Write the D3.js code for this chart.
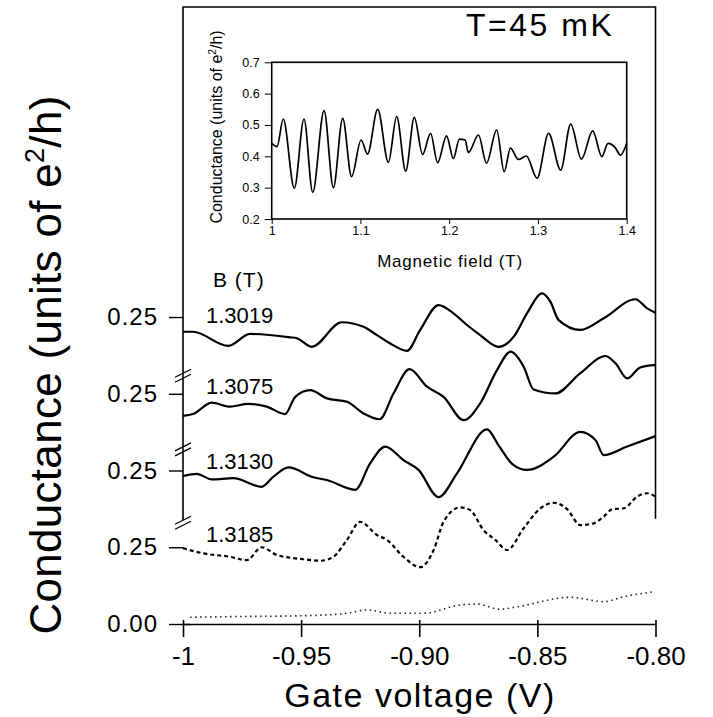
<html>
<head>
<style>
    body { margin: 0; background: #fff; }
    svg text { font-family: "Liberation Sans", Arial, sans-serif; fill: #000; }
    .frame { fill: none; stroke: #000; stroke-width: 1.6; }
    .trace { fill: none; stroke: #000; stroke-width: 2.2; }
    .broken { stroke-dasharray: 4,3; }
    .base { fill: none; stroke: #222; stroke-width: 1.6; stroke-dasharray: 1.5,3.5; }
    .inset-line { fill: none; stroke: #000; stroke-width: 1.7; }
</style>
</head>
<body>
<script src="https://cdn.jsdelivr.net/npm/d3@7"></script>
<svg id="chart" width="713" height="717"></svg>
<script>
// ---- main panel: conductance vs gate voltage, traces stacked by 0.25 ----
let fieldLabels = ["1.3019", "1.3075", "1.3130", "1.3185"];
let traceOffsets = [0.75, 0.5, 0.25, 0];

let v3019 = [-1.000,-0.9958,-0.9808,-0.9716,-0.9547,-0.9518,-0.9455,-0.9328,-0.9236,-0.9179,-0.9123,-0.9052,-0.8996,-0.8918,-0.8855,-0.8798,-0.8742,-0.8664,-0.8600,-0.8544,-0.8480,-0.8445,-0.8410,-0.8318,-0.8219,-0.8085,-0.8035,-0.800];
let g3019 = [0.202,0.202,0.156,0.195,0.184,0.181,0.153,0.233,0.218,0.191,0.164,0.140,0.208,0.289,0.262,0.224,0.191,0.153,0.186,0.262,0.327,0.300,0.240,0.208,0.246,0.308,0.278,0.264];

let v3075 = [-1.000,-0.9958,-0.9878,-0.9801,-0.9723,-0.9645,-0.9568,-0.9525,-0.9462,-0.9391,-0.9306,-0.9236,-0.9168,-0.9109,-0.9041,-0.8967,-0.8897,-0.8812,-0.8742,-0.8671,-0.8614,-0.8558,-0.8516,-0.8424,-0.8318,-0.8212,-0.8169,-0.8120,-0.8064,-0.800];
let g3075 = [0.178,0.184,0.221,0.208,0.217,0.208,0.184,0.240,0.262,0.235,0.224,0.186,0.167,0.251,0.330,0.273,0.240,0.164,0.219,0.327,0.387,0.338,0.264,0.251,0.317,0.373,0.349,0.300,0.336,0.344];

let v3130 = [-1.000,-0.9942,-0.9878,-0.9787,-0.9667,-0.9617,-0.9554,-0.9448,-0.9391,-0.9271,-0.9208,-0.9144,-0.9067,-0.9003,-0.8918,-0.8840,-0.8713,-0.8665,-0.8606,-0.8544,-0.8431,-0.8318,-0.8254,-0.8219,-0.8120,-0.800];
let g3130 = [0.232,0.239,0.221,0.225,0.197,0.230,0.260,0.228,0.219,0.187,0.273,0.328,0.284,0.252,0.163,0.241,0.384,0.333,0.271,0.252,0.295,0.376,0.349,0.300,0.328,0.362];

let v3185 = [-1.000,-0.9914,-0.9801,-0.9730,-0.9667,-0.9603,-0.9490,-0.9419,-0.9363,-0.9306,-0.9250,-0.9179,-0.9137,-0.9067,-0.8996,-0.8939,-0.8897,-0.8826,-0.8784,-0.8728,-0.8678,-0.8628,-0.8558,-0.8487,-0.8431,-0.8374,-0.8318,-0.8261,-0.8219,-0.8183,-0.8134,-0.8078,-0.8035,-0.800];
let g3185 = [0.247,0.230,0.219,0.208,0.250,0.225,0.211,0.206,0.219,0.274,0.333,0.290,0.274,0.219,0.185,0.241,0.333,0.380,0.371,0.306,0.274,0.241,0.312,0.377,0.395,0.374,0.322,0.328,0.350,0.374,0.377,0.415,0.426,0.415];

// low trace near zero
let vBase = [-0.9970,-0.9801,-0.9490,-0.9306,-0.9222,-0.9123,-0.8982,-0.8826,-0.8756,-0.8657,-0.8586,-0.8360,-0.8219,-0.8134,-0.8007];
let gBase = [0.022,0.024,0.027,0.035,0.046,0.035,0.035,0.062,0.065,0.048,0.056,0.087,0.073,0.089,0.105];

let gateTicks = [-1, -0.95, -0.90, -0.85, -0.80];
let gateTickLabels = ["-1", "-0.95", "-0.90", "-0.85", "-0.80"];
let condTicks = [0, 0.25, 0.5, 0.75, 1.0];
let condTickLabels = ["0.00", "0.25", "0.25", "0.25", "0.25"];
let breakLevels = [0.817, 0.577, 0.338];

// ---- inset: conductance vs magnetic field ----
let bField = [1.000,1.006,1.013,1.0255,1.0364,1.0462,1.059,1.0695,1.080,1.090,1.1007,1.108,1.1194,1.1315,1.1408,1.151,1.1607,1.170,1.179,1.187,1.197,1.2047,1.2115,1.218,1.2216,1.233,1.242,1.2535,1.262,1.269,1.278,1.287,1.299,1.312,1.3256,1.3369,1.349,1.3617,1.372,1.379,1.387,1.393,1.400];
let gField = [0.441,0.431,0.519,0.298,0.519,0.285,0.546,0.300,0.521,0.335,0.452,0.407,0.550,0.381,0.527,0.353,0.524,0.406,0.473,0.380,0.465,0.393,0.455,0.452,0.412,0.468,0.378,0.484,0.351,0.426,0.390,0.401,0.330,0.473,0.356,0.503,0.391,0.481,0.399,0.441,0.428,0.404,0.441];
let fieldTicks = [1, 1.1, 1.2, 1.3, 1.4];
let fieldTickLabels = ["1", "1.1", "1.2", "1.3", "1.4"];
let insetTicks = [0.2, 0.3, 0.4, 0.5, 0.6, 0.7];
let insetTickLabels = ["0.2", "0.3", "0.4", "0.5", "0.6", "0.7"];

let svg = d3.select("#chart");

let xScale = d3.scaleLinear().domain([-1, -0.8]).range([183, 655.5]);
let yScale = d3.scaleLinear().domain([0, 2.01]).range([624, 7]);
let yTop = 2.01;

function zipTrace(vs, gs, off){
    return vs.map((v, i) => ({x: v, y: gs[i] + off}));
}

let traces = [
    zipTrace(v3019, g3019, traceOffsets[0]),
    zipTrace(v3075, g3075, traceOffsets[1]),
    zipTrace(v3130, g3130, traceOffsets[2]),
    zipTrace(v3185, g3185, traceOffsets[3])
];

let line = d3.line()
    .x(d => xScale(d.x))
    .y(d => yScale(d.y))
    .curve(d3.curveMonotoneX);

// frame (top, upper left, upper right) - lower part of the sides is broken
let x0 = xScale(-1), x1 = xScale(-0.8);
svg.append("path").attr("class", "frame")
    .attr("d", "M" + x0 + "," + yScale(breakLevels[2]) + "V" + yScale(yTop) + "H" + x1 + "V" + yScale(breakLevels[2] + 0.005));

// axis breaks
for(let b of breakLevels){
    let yb = yScale(b);
    for(let k = 0; k < 2; k++){
        svg.append("line")
            .attr("x1", x0 - 8).attr("y1", yb + 4 + k * 5)
            .attr("x2", x0 + 8).attr("y2", yb - 4 + k * 5)
            .attr("stroke", "#000").attr("stroke-width", 1.3);
    }
}

// axes
let xAxis = svg.append("g")
    .attr("transform", "translate(0," + yScale(0) + ")")
    .call(d3.axisBottom(xScale).tickValues(gateTicks)
        .tickFormat((d, i) => gateTickLabels[i])
        .tickSize(13).tickSizeOuter(0).tickPadding(10));
xAxis.select(".domain").attr("stroke-width", 1.6);
xAxis.selectAll(".tick line").attr("y1", -4).attr("stroke-width", 1.6);
xAxis.selectAll(".tick text").attr("font-size", 26).attr("font-family", null);

let yAxis = svg.append("g")
    .attr("transform", "translate(" + x0 + ",0)")
    .call(d3.axisLeft(yScale).tickValues(condTicks)
        .tickFormat((d, i) => condTickLabels[i])
        .tickSize(14).tickPadding(11));
yAxis.select(".domain").remove();
yAxis.selectAll(".tick line").attr("stroke-width", 1.4);
yAxis.selectAll(".tick").filter(d => d === 0).select("line").attr("x1", 7);
yAxis.selectAll(".tick text").attr("font-size", 24).attr("font-family", null)
    .style("letter-spacing", "1px");

// traces
svg.selectAll(".trace").data(traces).enter()
    .append("path")
    .attr("class", (d, i) => i === 3 ? "trace broken" : "trace")
    .attr("d", line);

svg.append("path")
    .attr("class", "base")
    .datum(zipTrace(vBase, gBase, 0))
    .attr("d", line);

// trace labels
let labelY = [323, 394, 469, 542];
svg.selectAll(".flabel").data(fieldLabels).enter()
    .append("text")
    .attr("class", "flabel")
    .attr("x", 206)
    .attr("y", (d, i) => labelY[i])
    .attr("font-size", 22)
    .attr("fill", (d, i) => i === 3 ? "#444" : "#000")
    .text(d => d);

svg.append("text").attr("x", 213).attr("y", 287).attr("font-size", 21)
    .style("letter-spacing", "1px").text("B (T)");

svg.append("text").attr("x", 466).attr("y", 36).attr("font-size", 32)
    .style("letter-spacing", "2.5px").text("T=45 mK");

// axis titles
svg.append("text")
    .attr("x", 420).attr("y", 707)
    .attr("text-anchor", "middle")
    .attr("font-size", 34)
    .style("letter-spacing", "1.5px")
    .text("Gate voltage (V)");

let yt = svg.append("text")
    .attr("transform", "translate(61,365) rotate(-90)")
    .attr("text-anchor", "middle")
    .attr("font-size", 44)
    .style("letter-spacing", "0.3px");
yt.append("tspan").text("Conductance (units of e");
yt.append("tspan").attr("font-size", 27).attr("dy", -17).text("2");
yt.append("tspan").attr("dy", 17).text("/h)");

// ---- inset ----
let ix = d3.scaleLinear().domain([1, 1.4]).range([271.7, 626.7]);
let iy = d3.scaleLinear().domain([0.2, 0.7]).range([219, 62.3]);

svg.append("rect").attr("class", "frame")
    .attr("x", ix(1)).attr("y", iy(0.7))
    .attr("width", ix(1.4) - ix(1)).attr("height", iy(0.2) - iy(0.7))
    .attr("stroke-width", 1.5);

let ixAxis = svg.append("g")
    .attr("transform", "translate(0," + iy(0.2) + ")")
    .call(d3.axisBottom(ix).tickValues(fieldTicks)
        .tickFormat((d, i) => fieldTickLabels[i])
        .tickSize(5).tickSizeOuter(0).tickPadding(2));
ixAxis.select(".domain").remove();
ixAxis.selectAll(".tick text").attr("font-size", 12.5).attr("font-family", null);

let iyAxis = svg.append("g")
    .attr("transform", "translate(" + ix(1) + ",0)")
    .call(d3.axisLeft(iy).tickValues(insetTicks)
        .tickFormat((d, i) => insetTickLabels[i])
        .tickSize(7).tickPadding(5));
iyAxis.select(".domain").remove();
iyAxis.selectAll(".tick text").attr("font-size", 12.5).attr("font-family", null);

let iline = d3.line()
    .x((d, i) => ix(bField[i]))
    .y(d => iy(d))
    .curve(d3.curveMonotoneX);

svg.append("path")
    .attr("class", "inset-line")
    .datum(gField)
    .attr("d", iline);

svg.append("text")
    .attr("x", 450).attr("y", 267)
    .attr("text-anchor", "middle")
    .attr("font-size", 17)
    .style("letter-spacing", "0.8px")
    .text("Magnetic field (T)");

let iyt = svg.append("text")
    .attr("transform", "translate(222,127) rotate(-90)")
    .attr("text-anchor", "middle")
    .attr("font-size", 16);
iyt.append("tspan").text("Conductance (units of e");
iyt.append("tspan").attr("font-size", 10).attr("dy", -6).text("2");
iyt.append("tspan").attr("dy", 6).text("/h)");
</script>
</body>
</html>
